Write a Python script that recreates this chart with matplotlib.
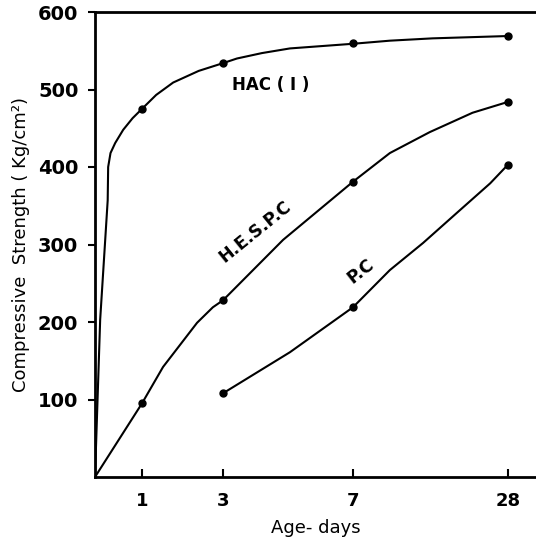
import numpy as np
import matplotlib
matplotlib.use('Agg')
import matplotlib.pyplot as plt

# Age in days (measured points) and compressive strength (kg/cm2)
hac_days = [1, 3, 7, 28]
hac_strength = [475, 534, 560, 569]
hesp_days = [1, 3, 7, 28]
hesp_strength = [95, 228, 381, 484]
pc_days = [3, 7, 28]
pc_strength = [108, 219, 403]

# extra points (for the shape only)
hac_curve_days = [0, 0.11, 0.21, 0.27, 0.28, 0.33, 0.43, 0.6, 0.8, 1,
                  1.35, 1.77, 2.4, 3, 3.43, 4.2, 5.06, 7, 12, 17.8, 28]
hac_curve_vals = [0, 203, 299, 357, 400, 418, 431, 448, 463, 475,
                  493, 509, 524, 534, 540, 547, 553, 559, 563, 566, 569]
hesp_curve_days = [0, 1, 1.52, 2.36, 2.75, 3, 4.85, 7, 12.0, 17.4, 23.2, 28]
hesp_curve_vals = [0, 95, 142, 199, 219, 228, 306, 381, 418, 445, 470, 484]
pc_curve_days = [3, 5.06, 7, 12.0, 16.5, 21.1, 25.6, 28]
pc_curve_vals = [108, 161, 219, 267, 302, 341, 379, 403]

xticks = [1, 3, 7, 28]
yticks = [100, 200, 300, 400, 500, 600]

# the age axis of the drawing is not linear: map days to drawn distance
knot_days = np.array([0, 1, 3, 7, 28, 40])
knot_pos = np.array([0, 47, 128, 258, 413, 501.6])


def fwd(x):
    return np.interp(x, knot_days, knot_pos)


def inv(p):
    return np.interp(p, knot_pos, knot_days)


fig = plt.figure(figsize=(5.36, 5.43), dpi=100)
ax = fig.add_axes([95 / 536, 1 - 477 / 543, 441 / 536, 465 / 543])
ax.set_xscale('function', functions=(fwd, inv))

lw = 1.5
ax.plot(hac_curve_days, hac_curve_vals, color='black', lw=lw)
ax.plot(hesp_curve_days, hesp_curve_vals, color='black', lw=lw)
ax.plot(pc_curve_days, pc_curve_vals, color='black', lw=lw)
for d, s in [(hac_days, hac_strength), (hesp_days, hesp_strength), (pc_days, pc_strength)]:
    ax.plot(d, s, 'o', color='black', ms=5)

ax.set_xlim(0, 31.8)
ax.set_ylim(0, 600)
ax.set_xticks(xticks)
ax.set_xticklabels([str(t) for t in xticks])
ax.set_yticks(yticks)
ax.set_yticklabels([str(t) for t in yticks])

ax.spines['right'].set_visible(False)
for s in ['left', 'bottom', 'top']:
    ax.spines[s].set_linewidth(2)

ax.tick_params(axis='x', direction='in', length=6, width=1.5, pad=11,
               labelsize=13)
ax.tick_params(axis='y', direction='out', length=5, width=1.5, pad=7,
               labelsize=14)
for lab in ax.get_xticklabels() + ax.get_yticklabels():
    lab.set_fontweight('bold')

ax.set_xlabel('Age- days', fontsize=13, fontweight='medium', labelpad=6)
ax.set_ylabel('Compressive  Strength ( Kg/cm²)', fontsize=13,
              fontweight='medium', labelpad=6)

ax.text(3.28, 506, 'HAC ( I )', fontsize=12, fontweight='bold', va='center')
ax.text(4.0, 316, 'H.E.S.P.C', fontsize=12.5, fontweight='bold', rotation=39,
        ha='center', va='center')
ax.text(8.1, 266, 'P.C', fontsize=12.5, fontweight='bold', rotation=38,
        ha='center', va='center')

fig.savefig('out.png', dpi=100)
